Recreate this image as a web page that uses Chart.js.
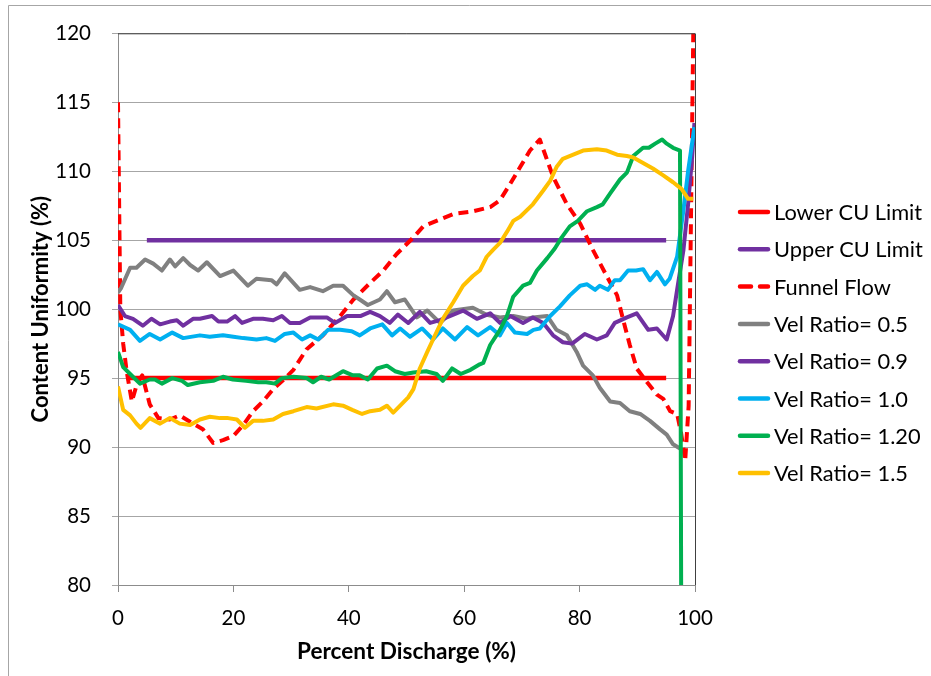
<!DOCTYPE html>
<html>
<head>
<meta charset="utf-8">
<script src="https://cdn.jsdelivr.net/npm/chart.js@4.4.0/dist/chart.umd.min.js"></script>
<style>
  html, body { margin: 0; padding: 0; background: #fff; }
  canvas { display: block; }
</style>
</head>
<body>
<canvas id="cuChart" width="931" height="676"></canvas>
<script>
// tick labels
const xTicks = [0, 20, 40, 60, 80, 100];
const yTicks = [80, 85, 90, 95, 100, 105, 110, 115, 120];

// series values, [percent discharge, content uniformity]
const lowerLimit = [[1.5, 95], [95, 95]];
const upperLimit = [[5, 105], [95, 105]];

const funnelFlow = [
  [0, 115], [0.4, 100], [0.9, 97.5], [1.5, 95.5], [2.4, 93.3], [3.3, 94.6], [4.2, 95.2],
  [5.5, 93.1], [7, 92.1], [9, 92.0], [10.7, 92.3], [13, 91.7], [14.7, 91.3], [16.5, 90.3],
  [18.2, 90.5], [20, 90.8], [21.7, 91.6], [23.4, 92.6], [25.1, 93.3], [26.9, 94.2],
  [28.5, 94.8], [30.4, 95.6], [32.7, 97.1], [35.5, 98.1], [38.5, 99.5], [40.8, 100.7],
  [43.7, 101.9], [46, 102.8], [48.3, 104.0], [51.2, 105.2], [52.9, 106.0], [55.2, 106.4],
  [58.1, 106.9], [61.6, 107.1], [64.5, 107.4], [66.2, 107.9], [68, 109.1], [69.7, 110.3],
  [71.4, 111.5], [73.1, 112.3], [75.4, 109.6], [77.8, 107.6], [80.1, 106.2], [82.3, 104.3],
  [84.7, 102.4], [86.5, 101.0], [87.5, 99.3], [88.7, 97.4], [89.9, 95.7], [91.7, 94.7],
  [93.4, 93.8], [94.5, 93.5], [95.7, 92.6], [96.9, 92.4], [97.6, 91], [98.3, 89],
  [98.9, 93], [99.7, 120]
];

const velRatio05 = [
  [0, 101.2], [0.5, 101.5], [2.1, 103.0], [3.2, 103.0], [4.7, 103.6], [6.1, 103.3],
  [7.6, 102.8], [9, 103.6], [9.9, 103.1], [11.3, 103.7], [12.5, 103.2], [13.9, 102.8],
  [15.4, 103.4], [17.7, 102.4], [20, 102.8], [22.5, 101.7], [24, 102.2], [26.6, 102.1],
  [27.5, 101.8], [28.9, 102.6], [31.5, 101.4], [33.3, 101.6], [35.5, 101.3], [37.3, 101.7],
  [39, 101.7], [40.8, 101.0], [41.9, 100.7], [43.3, 100.3], [45.4, 100.7], [46.6, 101.3],
  [48, 100.5], [49.7, 100.7], [51.8, 99.4], [53.6, 99.9], [55.8, 99.0], [58.1, 99.9],
  [61.5, 100.1], [63.9, 99.6], [66.2, 99.4], [68.5, 99.5], [70.9, 99.3], [71.9, 99.4],
  [74.4, 99.5], [76, 98.5], [77.8, 98.1], [79.5, 96.9], [80.6, 95.9], [82.3, 95.2],
  [83.5, 94.3], [85.3, 93.3], [87, 93.2], [88.7, 92.6], [90.5, 92.4], [92.2, 91.9],
  [93.9, 91.3], [95.1, 90.9], [96.2, 90.2], [97.4, 89.9]
];

const velRatio09 = [
  [0, 100.3], [1.2, 99.5], [2.6, 99.3], [4.3, 98.8], [5.8, 99.3], [7.3, 98.9], [9, 99.1],
  [10.2, 99.2], [11.3, 98.8], [13, 99.3], [14.2, 99.3], [16.3, 99.5], [17.4, 99.1],
  [18.9, 99.1], [20.3, 99.5], [21.5, 99.0], [23.4, 99.3], [25.1, 99.3], [26.9, 99.2],
  [28.4, 99.5], [29.8, 99.0], [31.5, 99.0], [33.3, 99.4], [36.2, 99.4], [37.6, 99.0],
  [39.7, 99.5], [42, 99.5], [43.7, 99.8], [45.4, 99.5], [47.1, 99.0], [48.5, 99.6],
  [50.3, 99.0], [52.3, 99.8], [54.1, 99.0], [55.8, 99.2], [57.5, 99.5], [59.8, 99.9],
  [62.2, 99.3], [64.5, 99.7], [66.2, 99.0], [68, 99.5], [70.2, 99.0], [71.9, 99.4],
  [73.7, 99.0], [75.4, 98.1], [77.1, 97.6], [78.7, 97.5], [80.9, 98.2], [83, 97.8],
  [84.7, 98.1], [86.1, 99.0], [88.2, 99.4], [89.9, 99.7], [91.9, 98.5], [93.4, 98.6],
  [95.1, 97.8], [96.2, 99.5], [96.9, 101.4], [98, 104.3], [98.8, 107.6], [99.5, 111.0],
  [99.9, 113.5]
];

const velRatio10 = [
  [0, 98.9], [2.1, 98.5], [3.8, 97.7], [5.5, 98.2], [7.3, 97.8], [9.4, 98.3], [11.3, 97.9],
  [14.2, 98.1], [15.9, 98.0], [18.2, 98.1], [20, 98.0], [21.7, 97.9], [24, 97.8],
  [25.7, 97.9], [27.2, 97.7], [28.9, 98.2], [30.4, 98.3], [31.9, 97.8], [33.3, 98.1],
  [34.7, 97.8], [36.4, 98.5], [38.5, 98.5], [40.5, 98.4], [41.9, 98.1], [43.7, 98.6],
  [45.8, 98.9], [47.5, 98.1], [48.9, 98.6], [50.6, 98.0], [52.7, 98.6], [54.6, 97.8],
  [56.3, 98.6], [58.4, 97.8], [60.5, 98.7], [62.4, 98.1], [64.5, 98.7], [66.2, 98.1],
  [67.4, 99.0], [68.8, 98.3], [70.9, 98.2], [72, 98.5], [73.1, 98.6], [74.9, 99.5],
  [76.6, 100.2], [78.3, 101.0], [80.1, 101.7], [81.3, 101.8], [82.7, 101.4], [83.5, 101.7],
  [84.9, 101.4], [86.1, 102.1], [87, 102.1], [88.4, 102.8], [89.8, 102.8], [91, 102.9],
  [92.2, 102.1], [93.4, 102.7], [94.8, 101.8], [95.6, 102.2], [96.9, 103.8], [98, 107.2],
  [98.8, 110.0], [99.9, 113.2]
];

const velRatio12 = [
  [0, 96.9], [0.9, 95.8], [2.1, 95.3], [3.8, 94.6], [5.5, 94.9], [6.4, 94.9], [7.6, 94.6],
  [9.4, 95.0], [11.1, 94.8], [12.1, 94.5], [14.2, 94.7], [16.5, 94.8], [18.2, 95.1],
  [19.9, 94.9], [22.2, 94.8], [24.3, 94.7], [25.7, 94.7], [27.2, 94.6], [28.4, 95.0],
  [30.4, 95.1], [32.7, 95.0], [33.8, 94.7], [35.2, 95.1], [36.6, 94.9], [39, 95.5],
  [40.7, 95.2], [41.9, 95.2], [43.3, 94.9], [44.9, 95.7], [46.6, 95.9], [48, 95.5],
  [49.7, 95.3], [51.2, 95.4], [53.4, 95.5], [55.2, 95.3], [56.3, 94.8], [57.9, 95.7],
  [59.4, 95.3], [61.1, 95.6], [62.7, 96.0], [63.3, 96.1], [64.5, 97.4], [66.2, 98.5],
  [67.4, 99.5], [68.5, 100.9], [70.2, 101.7], [71.4, 101.9], [72.6, 102.8], [74.4, 103.7],
  [75.7, 104.4], [76.9, 105.2], [78.3, 106.0], [79.7, 106.4], [81.3, 107.1], [83, 107.4],
  [84, 107.6], [85.3, 108.4], [87, 109.4], [88.2, 109.9], [89.3, 111.1], [91, 111.7],
  [92, 111.7], [93.1, 112.0], [94.3, 112.3], [95.1, 112.0], [96.2, 111.7], [97.4, 111.5],
  [97.6, 80]
];

const velRatio15 = [
  [0, 94.4], [0.9, 92.7], [2.1, 92.3], [3.2, 91.7], [3.9, 91.4], [5.5, 92.1], [7.3, 91.7],
  [9, 92.1], [10.7, 91.7], [12.5, 91.6], [14.2, 92.0], [15.9, 92.2], [17.7, 92.1],
  [19.1, 92.1], [20.6, 92.0], [22, 91.4], [23.4, 91.9], [25.1, 91.9], [26.9, 92.0],
  [28.6, 92.4], [30.4, 92.6], [32.7, 92.9], [34.4, 92.8], [37.3, 93.1], [39, 93.0],
  [40.6, 92.7], [42.3, 92.4], [43.7, 92.6], [45.4, 92.7], [46.6, 93.0], [47.7, 92.5],
  [48.9, 93.0], [50.3, 93.6], [51.2, 94.2], [52.3, 95.7], [53.6, 96.9], [54.6, 97.8],
  [56.3, 99.3], [58.1, 100.5], [59.8, 101.7], [61.5, 102.4], [62.7, 102.8], [63.9, 103.8],
  [65, 104.3], [66.2, 104.8], [67.4, 105.6], [68.5, 106.4], [69.7, 106.7], [71.9, 107.6],
  [73.7, 108.6], [74.9, 109.3], [76, 110.3], [77.1, 110.9], [78.9, 111.2], [80.6, 111.5],
  [83, 111.6], [84.7, 111.5], [86.5, 111.2], [88.2, 111.1], [89.3, 111.0], [91, 110.6],
  [92.7, 110.2], [94.5, 109.7], [96.2, 109.2], [97.7, 108.7], [98.8, 108.0], [99.7, 108.0]
];

const seriesNames = ['Lower CU Limit', 'Upper CU Limit', 'Funnel Flow', 'Vel Ratio= 0.5',
  'Vel Ratio= 0.9', 'Vel Ratio= 1.0', 'Vel Ratio= 1.20', 'Vel Ratio= 1.5'];
const seriesData = [lowerLimit, upperLimit, funnelFlow, velRatio05, velRatio09, velRatio10, velRatio12, velRatio15];
const seriesColors = ['#FF0000', '#7030A0', '#FF0000', '#808080', '#7030A0', '#00B0F0', '#00B050', '#FFC000'];

const FONT = 'Lato, "Open Sans", sans-serif';

function toPoints(arr) {
  return arr.map(p => ({ x: p[0], y: p[1] }));
}

const datasets = seriesNames.map((name, i) => ({
  label: name,
  data: toPoints(seriesData[i]),
  borderColor: seriesColors[i],
  backgroundColor: seriesColors[i],
  borderWidth: i < 2 ? 4.5 : 4,
  borderDash: name === 'Funnel Flow' ? [10, 6] : [],
  borderCapStyle: 'butt',
  borderJoinStyle: 'round',
  pointRadius: 0,
  tension: 0,
  // Excel draws later series on top
  order: seriesNames.length - i
}));

// frame round the picture and dark top/right edge of the plot area
const frame = {
  id: 'frame',
  beforeDraw(chart) {
    const ctx = chart.ctx;
    ctx.save();
    ctx.strokeStyle = '#a6a6a6';
    ctx.lineWidth = 1;
    ctx.beginPath();
    ctx.moveTo(8.5, chart.height);
    ctx.lineTo(8.5, 5.5);
    ctx.lineTo(chart.width, 5.5);
    ctx.stroke();
    ctx.restore();
  },
  afterDatasetsDraw(chart) {
    const a = chart.chartArea;
    const ctx = chart.ctx;
    ctx.save();
    ctx.strokeStyle = '#404040';
    ctx.lineWidth = 1;
    ctx.beginPath();
    ctx.moveTo(a.left, a.top + 0.5);
    ctx.lineTo(a.right + 0.5, a.top + 0.5);
    ctx.lineTo(a.right + 0.5, a.bottom);
    ctx.stroke();
    ctx.restore();
  }
};

// legend drawn as short line samples beside the plot
const lineLegend = {
  id: 'lineLegend',
  afterDraw(chart) {
    const ctx = chart.ctx;
    const x0 = chart.chartArea.right + 45;
    chart.data.datasets.forEach((ds, i) => {
      const y = 212 + i * 37.3;
      ctx.save();
      ctx.strokeStyle = ds.borderColor;
      ctx.lineWidth = 4.5;
      ctx.lineCap = 'round';
      ctx.setLineDash(ds.borderDash.length ? [11, 9] : []);
      ctx.beginPath();
      ctx.moveTo(x0, y);
      ctx.lineTo(x0 + 28, y);
      ctx.stroke();
      ctx.setLineDash([]);
      ctx.fillStyle = '#000';
      ctx.font = '21.8px ' + FONT;
      ctx.textBaseline = 'middle';
      ctx.fillText(ds.label, x0 + 34, y + 1);
      ctx.restore();
    });
  }
};

const ctx = document.getElementById('cuChart').getContext('2d');
new Chart(ctx, {
  type: 'line',
  data: { datasets: datasets },
  plugins: [frame, lineLegend],
  options: {
    responsive: false,
    animation: false,
    devicePixelRatio: 1,
    layout: { padding: { left: 8, right: 236, top: 28, bottom: 0 } },
    plugins: {
      legend: { display: false },
      tooltip: { enabled: false }
    },
    scales: {
      x: {
        type: 'linear',
        min: 0,
        max: 100,
        afterBuildTicks: s => { s.ticks = xTicks.map(v => ({ value: v })); },
        afterFit: s => { s.height = 91; },
        grid: { drawOnChartArea: false, drawTicks: true, tickLength: 7, color: '#8c8c8c' },
        border: { color: '#8c8c8c' },
        ticks: { color: '#000', font: { family: FONT, size: 20.5 }, padding: 14, maxRotation: 0 },
        title: {
          display: true,
          text: 'Percent Discharge (%)',
          color: '#000',
          font: { family: FONT, size: 22.6, weight: 'bold' },
          padding: { top: 0, bottom: 11 }
        }
      },
      y: {
        type: 'linear',
        min: 80,
        max: 120,
        afterBuildTicks: s => { s.ticks = yTicks.map(v => ({ value: v })); },
        afterFit: s => { s.width = 110; },
        grid: { color: '#a6a6a6', tickLength: 6 },
        border: { color: '#8c8c8c' },
        ticks: { color: '#000', font: { family: FONT, size: 20.5 }, padding: 21 },
        title: {
          display: true,
          text: 'Content Uniformity (%)',
          color: '#000',
          font: { family: FONT, size: 22, weight: 'bold' },
          padding: { top: 20, bottom: 0 }
        }
      }
    }
  }
});
</script>
</body>
</html>
